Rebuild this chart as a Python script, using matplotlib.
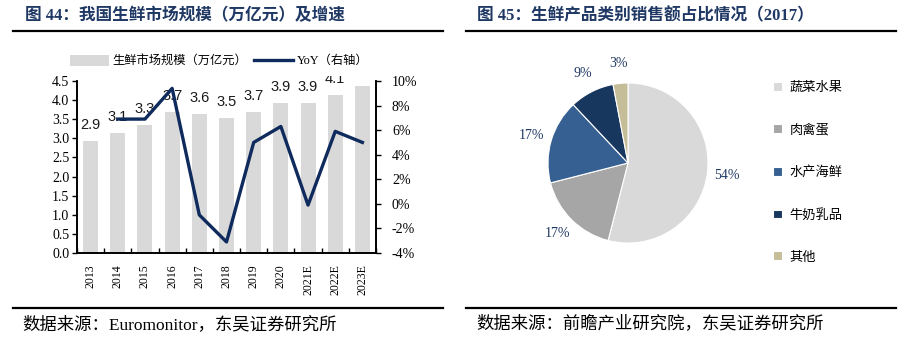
import matplotlib
matplotlib.use("Agg")
import matplotlib.pyplot as plt
from matplotlib.lines import Line2D
from matplotlib.patches import Patch
from matplotlib.ticker import FuncFormatter, MultipleLocator
from matplotlib.transforms import Bbox, TransformedBbox
import numpy as np

plt.rcParams['font.family'] = ['Liberation Serif', 'Noto Sans CJK SC']

# ---------------- data ----------------
years = ['2013', '2014', '2015', '2016', '2017', '2018', '2019', '2020', '2021E', '2022E', '2023E']
market_size = [2.94, 3.14, 3.34, 3.68, 3.63, 3.53, 3.70, 3.92, 3.92, 4.14, 4.37]
yoy = [np.nan, 6.9, 6.9, 9.4, -0.9, -3.1, 5.0, 6.3, -0.1, 5.9, 5.0]

pie_labels = ['蔬菜水果', '肉禽蛋', '水产海鲜', '牛奶乳品', '其他']
pie_values = [54, 17, 17, 9, 3]

title_left = '图 44：我国生鲜市场规模（万亿元）及增速'
title_right = '图 45：生鲜产品类别销售额占比情况（2017）'
source_left = '数据来源：Euromonitor，东吴证券研究所'
source_right = '数据来源：前瞻产业研究院，东吴证券研究所'
bar_legend = '生鲜市场规模（万亿元）'
line_legend = 'YoY（右轴）'

# ---------------- styles ----------------
W, H = 912, 351
navy = '#1F3864'
bar_color = '#D9D9D9'
line_color = '#0F2A5C'
pie_colors = ['#D9D9D9', '#A6A6A6', '#376092', '#17375E', '#C4BD97']

fig = plt.figure(figsize=(W / 100, H / 100), dpi=100)

def fx(px):
    return px / W

def fy(py):
    return 1 - py / H

# titles and rules
fig.text(fx(25), fy(16), title_left, fontsize=12, fontweight='bold', color=navy,
         ha='left', va='center')
fig.text(fx(477), fy(16), title_right, fontsize=12, fontweight='bold', color=navy,
         ha='left', va='center')
for (x0, x1, y) in [(13, 443, 30.5), (466, 896, 30.5), (13, 443, 308), (466, 896, 308)]:
    fig.add_artist(Line2D([fx(x0), fx(x1)], [fy(y), fy(y)], transform=fig.transFigure,
                          color='black', linewidth=1.6))
fig.text(fx(22), fy(325), source_left, fontsize=12.5, color='black', ha='left', va='center')
fig.text(fx(476), fy(324), source_right, fontsize=12.5, color='black', ha='left', va='center')

# ---------------- left chart ----------------
ax = fig.add_axes([fx(77), fy(253), fx(376) - fx(77), fy(81) - fy(253)])
x = np.arange(len(years))
bars = ax.bar(x, market_size, width=0.55, color=bar_color, zorder=1)
ax.set_xlim(-0.5, len(years) - 0.5)
ymax = 4.5
ax.set_ylim(0, ymax)
ax.yaxis.set_major_locator(MultipleLocator(0.5))
ax.yaxis.set_major_formatter(FuncFormatter(lambda v, p: f'{v:.1f}'))
ax.set_xticks(x)
ax.set_xticklabels(years, rotation=90, fontsize=8.5)
ax.set_xticks(np.arange(-0.5, len(years), 1.0), minor=True)
ax.tick_params(axis='x', which='major', length=0, pad=8)
ax.tick_params(axis='x', which='minor', direction='in', length=3.5, width=1)
ax.tick_params(axis='y', direction='out', length=3.5, width=1, labelsize=10, pad=2)
for s in ['top']:
    ax.spines[s].set_visible(False)
for s in ['left', 'bottom', 'right']:
    ax.spines[s].set_linewidth(1.2)

# value labels sit above the bars and are clipped just above the plot area
clip_box = TransformedBbox(Bbox([[0, 0], [1, 1.03]]), ax.transAxes)
for xi, v in zip(x, market_size):
    if v + 0.3 > ymax + 0.05:
        continue  # label would fall entirely outside the plot area
    t = ax.annotate(f'{v:.1f}', (xi, v), xytext=(0, 11.5), textcoords='offset points',
                    ha='center', va='center', fontsize=10.5, family='Liberation Sans',
                    color='#1a1a1a', zorder=2)
    t.set_clip_on(True)
    t.set_clip_box(clip_box)

ax2 = ax.twinx()
ax2.plot(x, yoy, color=line_color, linewidth=2.4, zorder=5)
ax2.set_ylim(-4, 10)
ax2.yaxis.set_major_locator(MultipleLocator(2))
ax2.yaxis.set_major_formatter(FuncFormatter(lambda v, p: f'{v:.0f}%'))
ax2.tick_params(axis='y', direction='out', length=3.5, width=1, labelsize=10, pad=8)
ax2.spines['top'].set_visible(False)
for s in ['left', 'bottom', 'right']:
    ax2.spines[s].set_linewidth(1.2)

handles = [Patch(facecolor=bar_color, edgecolor='none'),
           Line2D([0], [0], color=line_color, linewidth=2.4)]
fig.legend(handles, [bar_legend, line_legend], loc='center left',
           bbox_to_anchor=(fx(70), fy(61)), ncol=2, frameon=False, fontsize=8.8,
           handlelength=3.2, handleheight=1.0, handletextpad=0.3, columnspacing=0.5,
           borderpad=0, borderaxespad=0)

# ---------------- right chart (pie) ----------------
pax = fig.add_axes([fx(548), fy(243), fx(708) - fx(548), fy(83) - fy(243)])
wedges, texts, autotexts = pax.pie(pie_values, colors=pie_colors, startangle=90,
                                   counterclock=False, autopct='%.0f%%', pctdistance=1.25,
                                   wedgeprops=dict(edgecolor='white', linewidth=0.8),
                                   textprops=dict(fontsize=10, color=navy))
pax.set_aspect('auto')
pax.set_xlim(-1, 1)
pax.set_ylim(-1, 1)

fig.legend(wedges, pie_labels, loc='upper left', bbox_to_anchor=(fx(773), fy(82)),
           frameon=False, fontsize=9.5, handlelength=0.65, handleheight=0.65,
           handletextpad=0.6, labelspacing=2.25, borderpad=0, borderaxespad=0)

fig.savefig('out.png', dpi=100)
